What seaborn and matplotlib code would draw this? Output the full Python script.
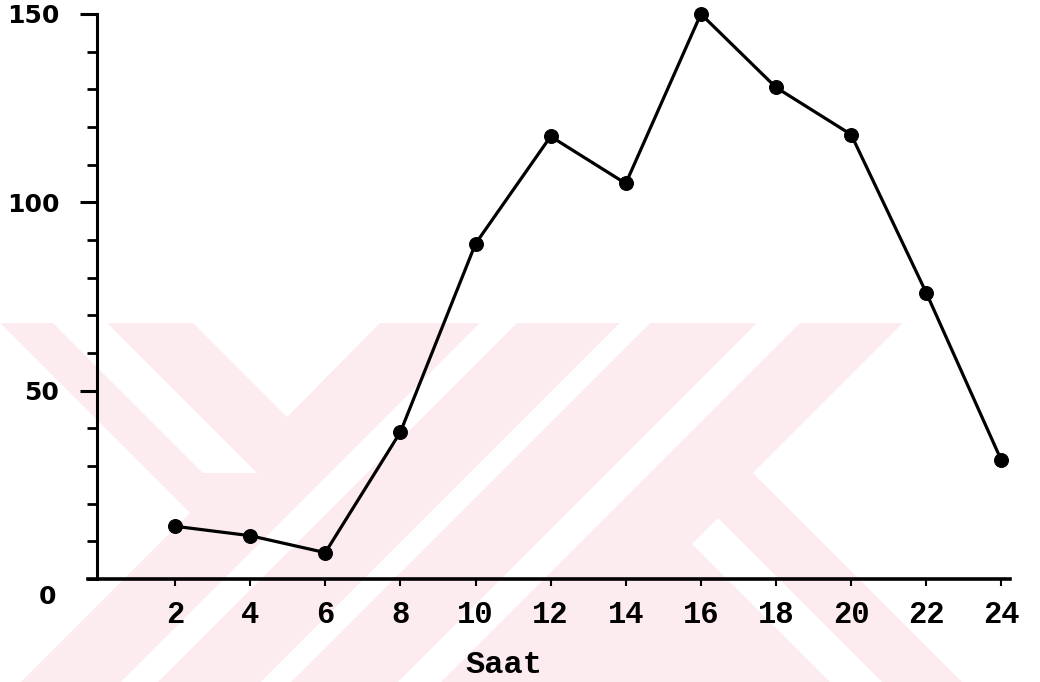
import matplotlib
matplotlib.use('Agg')
import matplotlib.pyplot as plt
from matplotlib.patches import Polygon
from matplotlib.ticker import MultipleLocator
import pandas as pd
import seaborn as sns

# ── Data ──────────────────────────────────────────────────────────────────────
saat  = [2, 4, 6, 8, 10, 12, 14, 16, 18, 20, 22, 24]
deger = [14, 11.5, 7, 39, 89, 117.5, 105, 150, 130.5, 118, 76, 31.5]

y_major  = [50, 100, 150]
y_labels = ['50', '100', '150']
x_labels = [str(s) for s in saat]
xlabel   = 'Saat'

df = pd.DataFrame({'Saat': saat, 'Deger': deger})

sns.set_theme(style='white')
plt.rcParams['font.family'] = ['DejaVu Sans']

W, H = 1040, 682
fig = plt.figure(figsize=(W / 100, H / 100), dpi=100)
ax = fig.add_axes([88 / W, (H - 579) / H, 922 / W, (579 - 14) / H])
ax.patch.set_alpha(0)

# ── pale pink watermark of the scan (pixel coords, y down) ────────────────────
def to_fig(pts):
    return [(x / W, 1 - y / H) for x, y in pts]

wm_pink = [
    [(0, 323), (193, 323), (287, 417), (380, 323), (480, 323),
     (121, 682), (21, 682), (190, 513)],
    [(517, 323), (620, 323), (261, 682), (158, 682)],
    [(650, 323), (757, 323), (398, 682), (291, 682)],
    [(800, 323), (903, 323), (753, 473), (962, 682), (441, 682)],
]
wm_white = [
    [(53, 323), (107, 323), (257, 473), (203, 473)],
    [(718, 518), (882, 682), (830, 682), (692, 544)],
]
for pts in wm_pink:
    fig.add_artist(Polygon(to_fig(pts), closed=True, transform=fig.transFigure,
                           fc='#fdecef', ec='none', zorder=-3))
for pts in wm_white:
    fig.add_artist(Polygon(to_fig(pts), closed=True, transform=fig.transFigure,
                           fc='white', ec='none', zorder=-2))

# ── the line ──────────────────────────────────────────────────────────────────
sns.lineplot(data=df, x='Saat', y='Deger', ax=ax, color='black', lw=2.3,
             marker='o', markersize=10, markeredgecolor='black', clip_on=False)

ax.set_xlim(-0.317, 24.23)
ax.set_ylim(0, 150)

for s in ['top', 'right']:
    ax.spines[s].set_visible(False)
ax.spines['left'].set_position(('data', -0.08))
ax.spines['left'].set_bounds(0, 150)
ax.spines['left'].set_linewidth(2.2)
ax.spines['bottom'].set_linewidth(2.6)
ax.spines['left'].set_color('black')
ax.spines['bottom'].set_color('black')

ax.set_xticks(saat)
ax.set_xticklabels(x_labels, fontfamily='Liberation Mono', fontweight='bold',
                   fontsize=22, color='black')
ax.tick_params(axis='x', direction='out', length=5, width=1.5, pad=10,
               color='black', bottom=True)

ax.set_yticks(y_major)
ax.set_yticklabels(y_labels, fontfamily='DejaVu Sans', fontweight='bold',
                   fontsize=18, color='black')
ax.yaxis.set_minor_locator(MultipleLocator(10))
ax.tick_params(axis='y', which='major', direction='out', length=12, width=2.2,
               pad=15, color='black', left=True)
ax.tick_params(axis='y', which='minor', direction='out', length=7, width=2,
               color='black', left=True)

fig.text(48 / W, 1 - 597 / H, '0', ha='center', va='center', fontsize=18,
         fontweight='bold', color='black')

ax.set_xlabel(xlabel, fontfamily='Liberation Mono', fontweight='bold',
              fontsize=23, color='black', va='top')
ax.xaxis.set_label_coords((504 - 88) / 922, -(650 - 579) / 565)
ax.set_ylabel('')

fig.savefig('out.png', dpi=100)
